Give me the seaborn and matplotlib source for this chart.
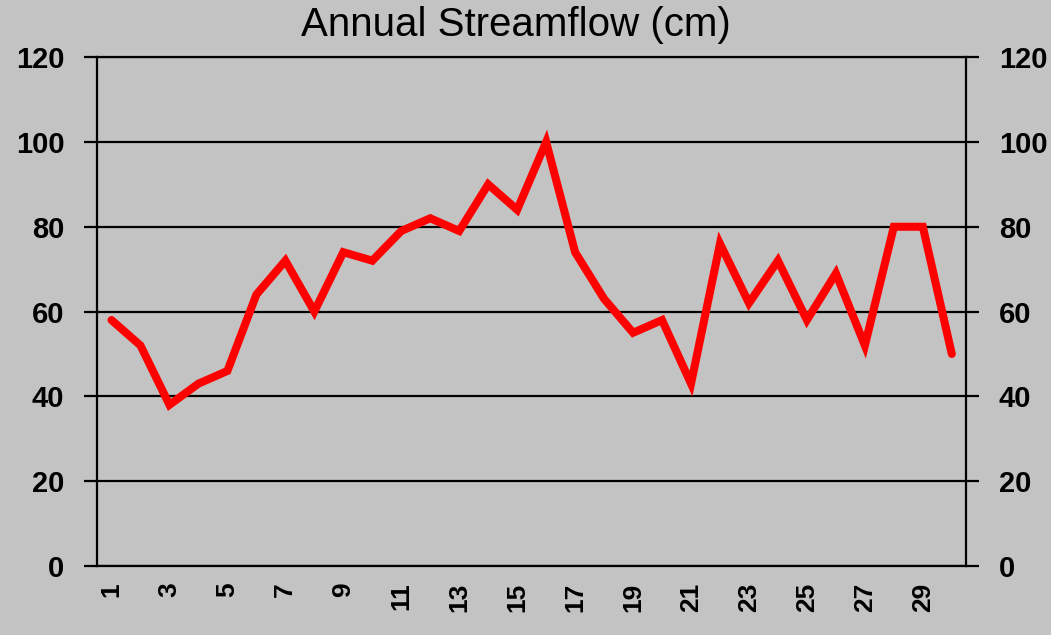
import matplotlib
matplotlib.use("Agg")
import matplotlib.pyplot as plt
import seaborn as sns
import pandas as pd

years = list(range(1, 31))
streamflow = [58, 52, 38, 43, 46, 64, 72, 60, 74, 72,
              79, 82, 79, 90, 84, 100, 74, 63, 55, 58,
              43, 76, 62, 72, 58, 69, 52, 80, 80, 50]
y_ticks = [0, 20, 40, 60, 80, 100, 120]
x_tick_labels = [str(v) for v in range(1, 30, 2)]

bg = "#c3c3c3"
sns.set_theme(style="white")
plt.rcParams["font.family"] = ["Liberation Sans", "DejaVu Sans"]
plt.rcParams["text.color"] = "black"
plt.rcParams["xtick.color"] = "black"
plt.rcParams["ytick.color"] = "black"

df = pd.DataFrame({"year": years, "flow": streamflow})

fig = plt.figure(figsize=(10.51, 6.35), dpi=100, facecolor=bg)
ax = fig.add_axes([0.0923, 0.1087, 0.8271, 0.8013])
ax.set_facecolor(bg)

sns.lineplot(data=df, x="year", y="flow", ax=ax, color="#ff0000",
             linewidth=5.8, solid_joinstyle="miter")

ax.set_xlim(0.5, 30.5)
ax.set_ylim(0, 120)
ax.set_yticks(y_ticks)
ax.set_yticklabels([str(v) for v in y_ticks], fontsize=21, fontweight="bold")
ax.set_xticks(list(range(1, 30, 2)))
ax.set_xticklabels(x_tick_labels, rotation=90, fontsize=19, fontweight="bold")
ax.set_xlabel("")
ax.set_ylabel("")
ax.grid(axis="y", color="black", linewidth=1.6)
ax.set_axisbelow(True)

for side in ["left", "right", "bottom", "top"]:
    ax.spines[side].set_visible(True)
    ax.spines[side].set_color("black")
    ax.spines[side].set_linewidth(1.6)

ax.tick_params(axis="y", which="both", left=True, right=True,
               labelleft=True, labelright=True, length=9.5, width=1.6,
               direction="out", color="black", labelcolor="black", pad=14)
ax.tick_params(axis="x", bottom=False, labelcolor="black", pad=6)

ax.set_title("Annual Streamflow (cm)", fontsize=29, fontweight="normal",
             pad=15, color="black", x=0.482)

fig.savefig("out.png", dpi=100, facecolor=bg)
